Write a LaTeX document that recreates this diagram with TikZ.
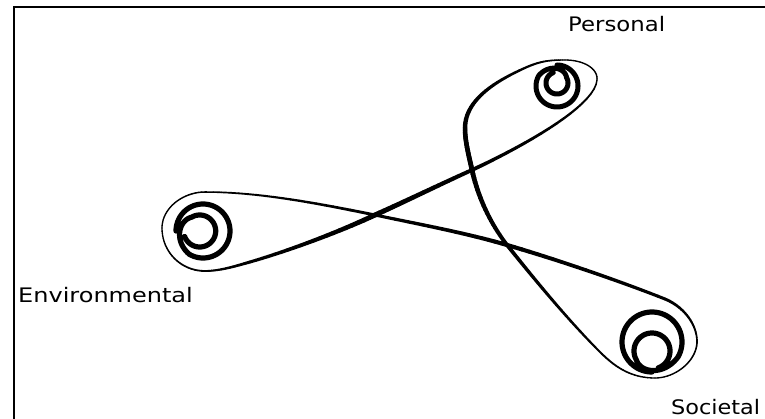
\documentclass[tikz,border=0pt]{standalone}
\usepackage{fontspec}
\setmainfont{DejaVu Sans}
\usetikzlibrary{calc}
\newcommand{\bseg}[6]{%
  \foreach \k in {0,...,20}{%
    \pgfmathsetmacro{\tpos}{\k/20}%
    \path #1 .. controls #2 and #3 .. #4 coordinate[pos=\tpos] (bs\k);%
  }%
  \foreach \k in {1,...,20}{%
    \pgfmathtruncatemacro{\kprev}{\k-1}%
    \pgfmathsetmacro{\bsw}{#5+(#6-#5)*(\k-0.5)/20}%
    \draw[line width=\bsw pt, line cap=round] (bs\kprev) -- (bs\k);%
  }%
}
\newcommand{\swirl}[7]{%
\begin{scope}[declare function={swr(\t)=#3-(#3-#4)*min(1,max(0,(\t-300)/120));}]
 \draw[line width=#6pt, line cap=round] plot[domain=0:700, samples=141]
  ({#1+#7*(#3-swr(\x))*cos(#5)+swr(\x)*cos(#5+\x)},
   {#2+#7*(#3-swr(\x))*sin(#5)+swr(\x)*sin(#5+\x)});
\end{scope}}
\tikzset{lbl/.style={anchor=base west, inner sep=0pt, font=\fontsize{20}{22}\selectfont}}
\begin{document}
\begin{tikzpicture}[x=1pt,y=-1pt]
\useasboundingbox (0,0) rectangle (765,419);
% frame
\coordinate (fb) at (14,419);
\coordinate (fc) at (14,7);
\coordinate (fr) at (765,7);
\draw[line width=2.2pt] (fb) -- (fc) -- (fr);
% closed brush curve
\bseg{(597,80)}{(595,108)}{(513,151)}{(472,170)}{1.4}{3.8}
\bseg{(472,170)}{(443,183)}{(404,202)}{(375,215)}{3.8}{5.0}
\bseg{(375,215)}{(339,232)}{(288,251)}{(250,262)}{5.0}{3.0}
\bseg{(250,262)}{(236,266)}{(220,271)}{(205,271)}{3.0}{1.8}
\bseg{(205,271)}{(181,271)}{(162,252)}{(162,228)}{1.8}{1.3}
\bseg{(162,228)}{(162,208)}{(183,192)}{(205,192)}{1.3}{1.5}
\bseg{(205,192)}{(260,192)}{(321,204)}{(375,215)}{1.5}{3.0}
\bseg{(375,215)}{(418,224)}{(466,233)}{(507,245)}{3.0}{4.2}
\bseg{(507,245)}{(555,259)}{(617,280)}{(665,299)}{4.2}{3.0}
\bseg{(665,299)}{(682,306)}{(696,322)}{(697,340)}{3.0}{1.6}
\bseg{(697,340)}{(698,360)}{(676,378)}{(655,378)}{1.6}{1.3}
\bseg{(655,378)}{(630,378)}{(614,366)}{(600,352)}{1.3}{2.0}
\bseg{(600,352)}{(568,320)}{(535,280)}{(507,245)}{2.0}{3.8}
\bseg{(507,245)}{(490,223)}{(478,197)}{(472,170)}{3.8}{4.8}
\bseg{(472,170)}{(469,156)}{(465,142)}{(465,128)}{4.8}{4.5}
\bseg{(465,128)}{(465,98)}{(500,79)}{(527,67)}{4.5}{2.2}
\bseg{(527,67)}{(541,61)}{(550,60)}{(565,60)}{2.2}{1.3}
\bseg{(565,60)}{(583,60)}{(598,68)}{(597,80)}{1.3}{1.4}
% spirals
\swirl{557}{86}{21}{11}{-90}{5.0}{0.3}
\swirl{203}{231}{27}{16}{180}{5.2}{0.3}
\swirl{652}{342}{30}{18}{90}{5.2}{0.75}
% labels
\node[lbl] (personal) at (568,32) {\scalebox{1.14}[1]{Personal}};
\node[lbl] (environmental) at (18,303) {\scalebox{1.2}[1]{Environmental}};
\node[lbl] (societal) at (671,414) {\scalebox{1.12}[1]{Societal}};
\end{tikzpicture}
\end{document}
